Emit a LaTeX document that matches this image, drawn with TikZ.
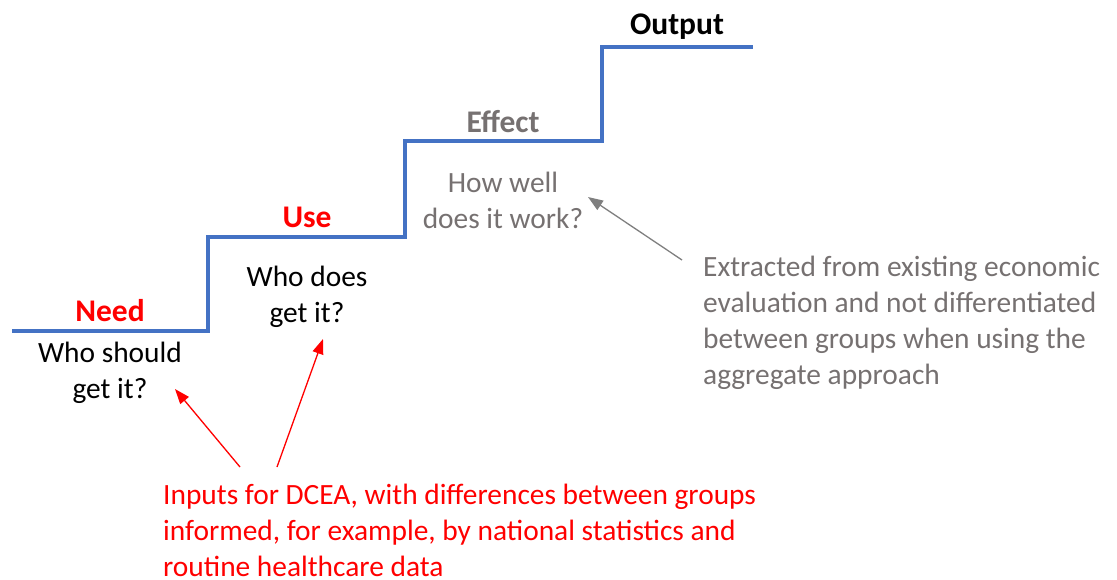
\documentclass[tikz,border=0pt]{standalone}
\usepackage{fontspec}
\setmainfont{Carlito}
\usetikzlibrary{arrows.meta}
\definecolor{stairblue}{HTML}{4472C4}
\definecolor{txtgray}{HTML}{767171}
\definecolor{arrgray}{HTML}{7F7F7F}
\definecolor{pptred}{HTML}{FF0000}
\tikzset{
  body/.style={font=\fontsize{29.4}{36}\selectfont, align=center, inner sep=0pt, anchor=center},
  head/.style={font=\fontsize{31.5}{36}\selectfont\bfseries, inner sep=0pt, anchor=center},
  note/.style={font=\fontsize{29.4}{36}\selectfont, align=left, inner sep=0pt, anchor=north west},
  stair/.style={stairblue, line width=3.5pt},
  redarrow/.style={pptred, line width=1.3pt, -{Triangle[length=15pt,width=11pt]}},
  grayarrow/.style={arrgray, line width=1.3pt, -{Triangle[length=15pt,width=11pt]}},
}
\begin{document}
\begin{tikzpicture}[x=1pt,y=-1pt]
\useasboundingbox (0,0) rectangle (1117,579);
% staircase
\draw[stair] (12,331) -- (208,331) -- (208,237) -- (405,237) -- (405,141) -- (602,141) -- (602,47) -- (753,47);
% headings
\node[head, text=pptred] (need) at (110,311) {Need};
\node[head, text=pptred] (use) at (307,217) {Use};
\node[head, text=txtgray] (effect) at (503,122) {Effect};
\node[head, text=black] (output) at (677,27) {Output};
% questions
\node[body] (q1) at (110,373) {Who should\\get it?};
\node[body] (q2) at (307,297) {Who does\\get it?};
\node[body, text=txtgray] (q3) at (503,200) {How well\\does it work?};
% notes
\node[note, text=txtgray] (gnote) at (703,256) {Extracted from existing economic\\evaluation and not differentiated\\between groups when using the\\aggregate approach};
\node[note, text=pptred] (rnote) at (163,484) {Inputs for DCEA, with differences between groups\\informed, for example, by national statistics and\\routine healthcare data};
% arrow end points
\coordinate (g0) at (682,260);
\coordinate (g1) at (588,197);
\coordinate (r1a) at (240,467);
\coordinate (r1b) at (175,389);
\coordinate (r2a) at (277,467);
\coordinate (r2b) at (323,339);
\draw[grayarrow] (g0) -- (g1);
\draw[redarrow] (r1a) -- (r1b);
\draw[redarrow] (r2a) -- (r2b);
\end{tikzpicture}
\end{document}
